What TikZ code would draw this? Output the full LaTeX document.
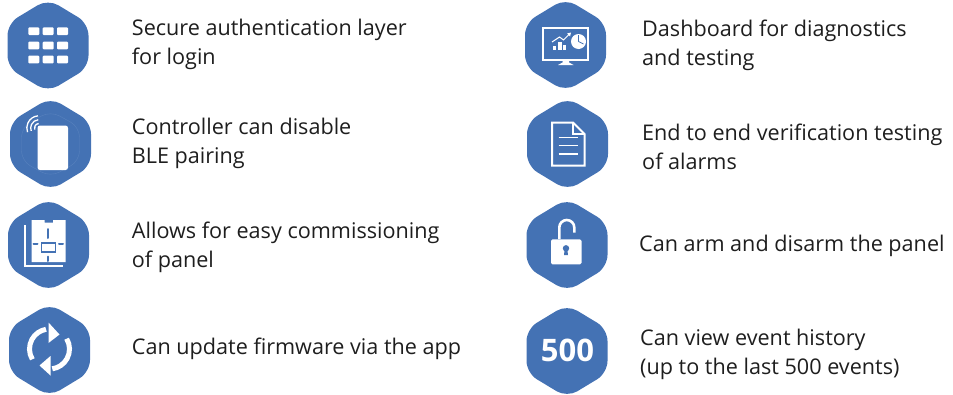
\documentclass[tikz,border=0pt]{standalone}
\usepackage{fontspec}
\setmainfont{Open Sans}
\definecolor{hexblue}{RGB}{68,114,180}
\definecolor{hexfaint}{RGB}{88,130,190}
\definecolor{labelink}{RGB}{30,30,30}
\tikzset{
  hexa/.style={fill=hexblue,rounded corners=12pt},
  label text/.style={anchor=base west,inner sep=0pt,align=left,text=labelink,font=\fontsize{21.6}{28.5}\selectfont},
  wf/.style={fill=white},
  ws/.style={draw=white,line width=#1},
  ws/.default=2pt,
  bs/.style={draw=hexblue,line width=#1},
  bs/.default=1.5pt,
}
\newcommand{\hexpath}[2]{\fill[hexa] (#1,#2+46.5)--(#1+40.5,#2+22)--(#1+40.5,#2-22)--(#1,#2-46.5)--(#1-40.5,#2-22)--(#1-40.5,#2+22)--cycle;}
\begin{document}
\begin{tikzpicture}[x=1pt,y=1pt]
\useasboundingbox (0,-394) rectangle (953,0);
% ---------- hexagons
\hexpath{48}{-45.5}
\hexpath{50.5}{-144}
\hexpath{48.5}{-245}
\hexpath{49.5}{-350}
\hexpath{565.5}{-45}
\hexpath{567.5}{-144}
\hexpath{567}{-245}
\hexpath{567}{-351}
% ---------- keypad
\begin{scope}[shift={(48,-45.5)}]
  \foreach \x in {-19.7,-5.3,9}
    \foreach \y in {10.5,-3.8,-17.8}
      \fill[wf,rounded corners=1pt] (\x,\y) rectangle ++(11,7.7);
\end{scope}
% ---------- card with radio arcs
\begin{scope}[shift={(50.5,-144)}]
  \draw[hexfaint,line width=.4pt,rounded corners=10pt] (0,33)--(29,17)--(29,-17)--(0,-33)--(-29,-17)--(-29,17)--cycle;
  \fill[wf,rounded corners=2.5pt] (-13,18.5) rectangle (17.5,-26);
  \foreach \r in {4.5,8.3,12.2}
    \draw[ws=1.3pt] (-11.5,16) ++(95:\r) arc (95:200:\r);
\end{scope}
% ---------- floor plan
\begin{scope}[shift={(48.5,-245)}]
  \draw[ws=1.8pt] (-23.5,20)--(-23.5,-21)--(14.5,-21);
  \fill[wf] (-17,25)--(-4,25)--(-4,22.3)--(4.5,22.3)--(4.5,25)--(17,25)--(17,-17)--(-17,-17)--cycle;
  \draw[bs=1.5pt] (-7,2) rectangle (7,-7);
  \draw[bs=2pt,line cap=round] (-.2,16)--(-.2,7);
  \draw[bs=2pt,line cap=round] (-.2,-11.5)--(-.2,-16);
  \draw[bs=2pt,line cap=round] (-15,1)--(-11,1);
  \draw[bs=2pt,line cap=round] (10.5,1)--(14.5,1);
\end{scope}
% ---------- refresh arrows
\begin{scope}[shift={(49.5,-349)}]
  \draw[ws=5pt] (211:20) arc (211:100:20);
  \fill[wf] (-1,26.5)--(10,14.5)--(-1,6)--cycle;
  \draw[ws=5pt] (31:20) arc (31:-82:20);
  \fill[wf] (1,-26.5)--(-10,-16.5)--(1,-7)--cycle;
\end{scope}
% ---------- monitor
\begin{scope}[shift={(565.5,-45)}]
  \draw[ws=1.8pt] (-22.5,17) rectangle (22.5,-15);
  \fill[wf] (-3,-15)--(3.5,-15)--(3.5,-17.5)--(8,-20)--(-7.5,-20)--(-3,-17.5)--cycle;
  \fill[wf] (-12.5,-5) rectangle (-9.5,-1);
  \fill[wf] (-7.5,-5) rectangle (-4,3);
  \fill[wf] (-2.7,-5) rectangle (.8,0);
  \fill[wf] (-2.7,-5) rectangle (.8,-1);
  \draw[ws=1pt] (-13.5,3)--(-6,8)--(-2,5)--(4,11);
  \fill[wf] (5.5,12.5)--(1.5,11.5)--(4.5,8.5)--cycle;
  \fill[wf] (13,3.5) circle (7.5);
  \draw[bs=.8pt] (13,3.5)--(13,10) (13,3.5)--(18,1);
\end{scope}
% ---------- document
\begin{scope}[shift={(567.5,-144)}]
  \draw[ws=2pt,line join=miter] (-15.5,21.5)--(5.5,21.5)--(17,10)--(17,-21.5)--(-15.5,-21.5)--cycle;
  \draw[ws=1.6pt] (5.5,21.5)--(5.5,10)--(17,10);
  \foreach \y in {6.5,-1.5,-10}
    \draw[ws=1.6pt] (-9,\y)--(10.5,\y);
\end{scope}
% ---------- padlock
\begin{scope}[shift={(567,-245)}]
  \fill[wf,rounded corners=1.5pt] (-16,5.7) rectangle (14.5,-19.3);
  \draw[ws=2.6pt] (-7.7,6)--(-7.7,17.5) arc (180:0:7.5) -- (7.3,12.5);
  \fill[hexblue] (-1,-3.3) circle (3.2);
  \fill[hexblue] (-2.2,-3.3)--(.2,-3.3)--(1,-10)--(-3,-10)--cycle;
\end{scope}
% ---------- 500
\node[inner sep=0pt,text=white,font=\fontsize{31}{31}\selectfont\bfseries] (n500) at (567.5,-350.5) {500};
% ---------- labels
\node[label text] (t1) at (131.7,-64) {Secure authentication layer\\for login};
\node[label text] (t2) at (131.7,-163.3) {Controller can disable\\BLE pairing};
\node[label text] (t3) at (131.7,-267) {Allows for easy commissioning\\of panel};
\node[label text] (t4) at (131.7,-354) {Can update firmware via the app};
\node[label text] (t5) at (642,-65) {Dashboard for diagnostics\\and testing};
\node[label text] (t6) at (642,-169) {End to end verification testing\\of alarms};
\node[label text] (t7) at (639,-251) {Can arm and disarm the panel};
\node[label text] (t8) at (640,-374) {Can view event history\\(up to the last 500 events)};
\end{tikzpicture}
\end{document}
